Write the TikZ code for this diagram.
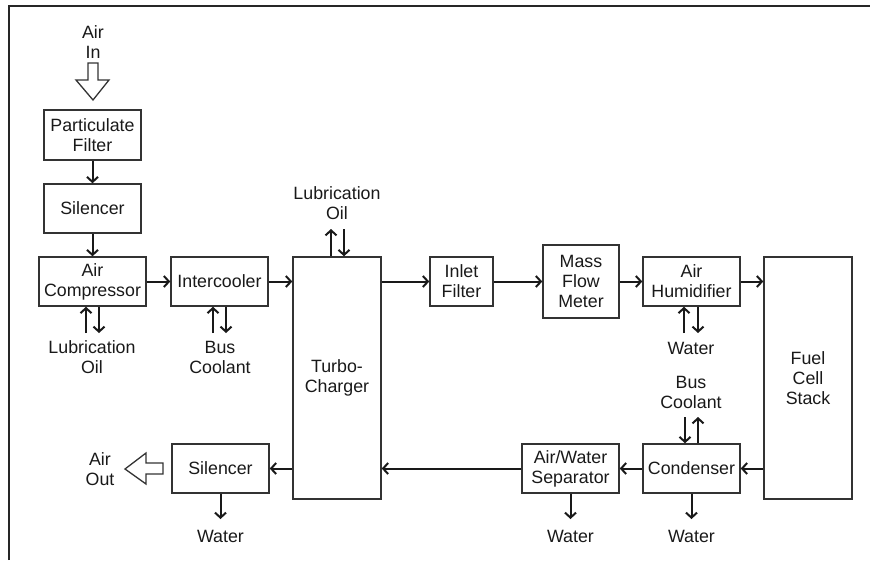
\documentclass[tikz,border=0pt]{standalone}
\usepackage{fontspec}
\setmainfont{Liberation Sans}
\usetikzlibrary{arrows.meta}
\begin{document}
\begin{tikzpicture}[x=1pt,y=-1pt,
  box/.style={draw=black!80, line width=1.5pt, align=center, inner sep=0pt, minimum width=97pt, minimum height=49pt, font=\fontsize{17.8}{20}\selectfont, text=black!90},
  lbl/.style={align=center, inner sep=0pt, font=\fontsize{17.8}{20}\selectfont, text=black!90},
  arr/.style={line width=2pt, black!90, -{Straight Barb[length=5pt,width=11pt]}},
  hollow/.style={draw=black!80, line width=1.3pt, fill=white, line join=miter}]
\useasboundingbox (0,0) rectangle (870,560);
\draw[line width=2pt, black!85] (9,560) -- (9,6) -- (870,6);

% boxes
\node[box, minimum height=50pt] (pf) at (92.5,135) {Particulate\\Filter};
\node[box] (sil1) at (92.5,208.5) {Silencer};
\node[box, minimum width=107pt] (ac) at (92.5,281.5) {Air\\Compressor};
\node[box] (ic) at (219.5,281.5) {Intercooler};
\node[box, minimum width=88pt, minimum height=242pt] (tc) at (337,378) {Turbo-\\Charger};
\node[box, minimum width=63pt] (inf) at (461.5,281.5) {Inlet\\Filter};
\node[box, minimum width=76pt, minimum height=73pt] (mfm) at (581,281.5) {Mass\\Flow\\Meter};
\node[box] (ah) at (691.5,281.5) {Air\\Humidifier};
\node[box, minimum width=88pt, minimum height=242pt] (fcs) at (808,378) {Fuel\\Cell\\Stack};
\node[box] (cond) at (691.5,468.5) {Condenser};
\node[box] (aws) at (570.5,468.5) {Air/Water\\Separator};
\node[box] (sil2) at (220.5,468.5) {Silencer};

% labels
\node[lbl] (ain) at (93,42.5) {Air\\In};
\node[lbl] (aout) at (100,469) {Air\\Out};
\node[lbl] (lo1) at (92,357) {Lubrication\\Oil};
\node[lbl] (bc1) at (220,357) {Bus\\Coolant};
\node[lbl] (lo2) at (337,203) {Lubrication\\Oil};
\node[lbl] (w1) at (691,348) {Water};
\node[lbl] (bc2) at (691,392.5) {Bus\\Coolant};
\node[lbl] (w2) at (570.5,536) {Water};
\node[lbl] (w3) at (691.5,536) {Water};
\node[lbl] (w4) at (220.5,536) {Water};

% hollow arrows
\draw[hollow] (88,63) -- (98,63) -- (98,80) -- (109,80) -- (93,100) -- (76,80) -- (88,80) -- cycle;
\draw[hollow] (163,463) -- (163,474) -- (146,474) -- (146,484) -- (125,469) -- (146,453) -- (146,463) -- cycle;

% main flow
\draw[arr] (pf) -- (sil1);
\draw[arr] (sil1) -- (ac);
\draw[arr] (ac) -- (ic);
\draw[arr] (ic.east) -- (ic.east -| tc.west);
\draw[arr] (tc.east |- inf.west) -- (inf.west);
\draw[arr] (inf) -- (mfm);
\draw[arr] (mfm) -- (ah);
\draw[arr] (ah.east) -- (ah.east -| fcs.west);
\draw[arr] (fcs.west |- cond.east) -- (cond.east);
\draw[arr] (cond) -- (aws);
\draw[arr] (aws.west) -- (aws.west -| tc.east);
\draw[arr] (tc.west |- sil2.east) -- (sil2.east);

% side streams
\coordinate (acU) at (86,333);
\coordinate (acD) at (99,333);
\draw[arr] (acU) -- (acU |- ac.south);
\draw[arr] (acD |- ac.south) -- (acD);
\coordinate (icU) at (213,333);
\coordinate (icD) at (226,333);
\draw[arr] (icU) -- (icU |- ic.south);
\draw[arr] (icD |- ic.south) -- (icD);
\coordinate (tcU) at (331,229);
\coordinate (tcD) at (344,229);
\draw[arr] (tcU |- tc.north) -- (tcU);
\draw[arr] (tcD) -- (tcD |- tc.north);
\coordinate (ahU) at (684,333);
\coordinate (ahD) at (698,333);
\draw[arr] (ahU) -- (ahU |- ah.south);
\draw[arr] (ahD |- ah.south) -- (ahD);
\coordinate (cdD) at (685,417);
\coordinate (cdU) at (698,417);
\draw[arr] (cdD) -- (cdD |- cond.north);
\draw[arr] (cdU |- cond.north) -- (cdU);
\coordinate (awsW) at (570.5,519);
\coordinate (cdW) at (691.5,519);
\coordinate (slW) at (220.5,519);
\draw[arr] (aws.south) -- (awsW);
\draw[arr] (cond.south) -- (cdW);
\draw[arr] (sil2.south) -- (slW);
\end{tikzpicture}
\end{document}
